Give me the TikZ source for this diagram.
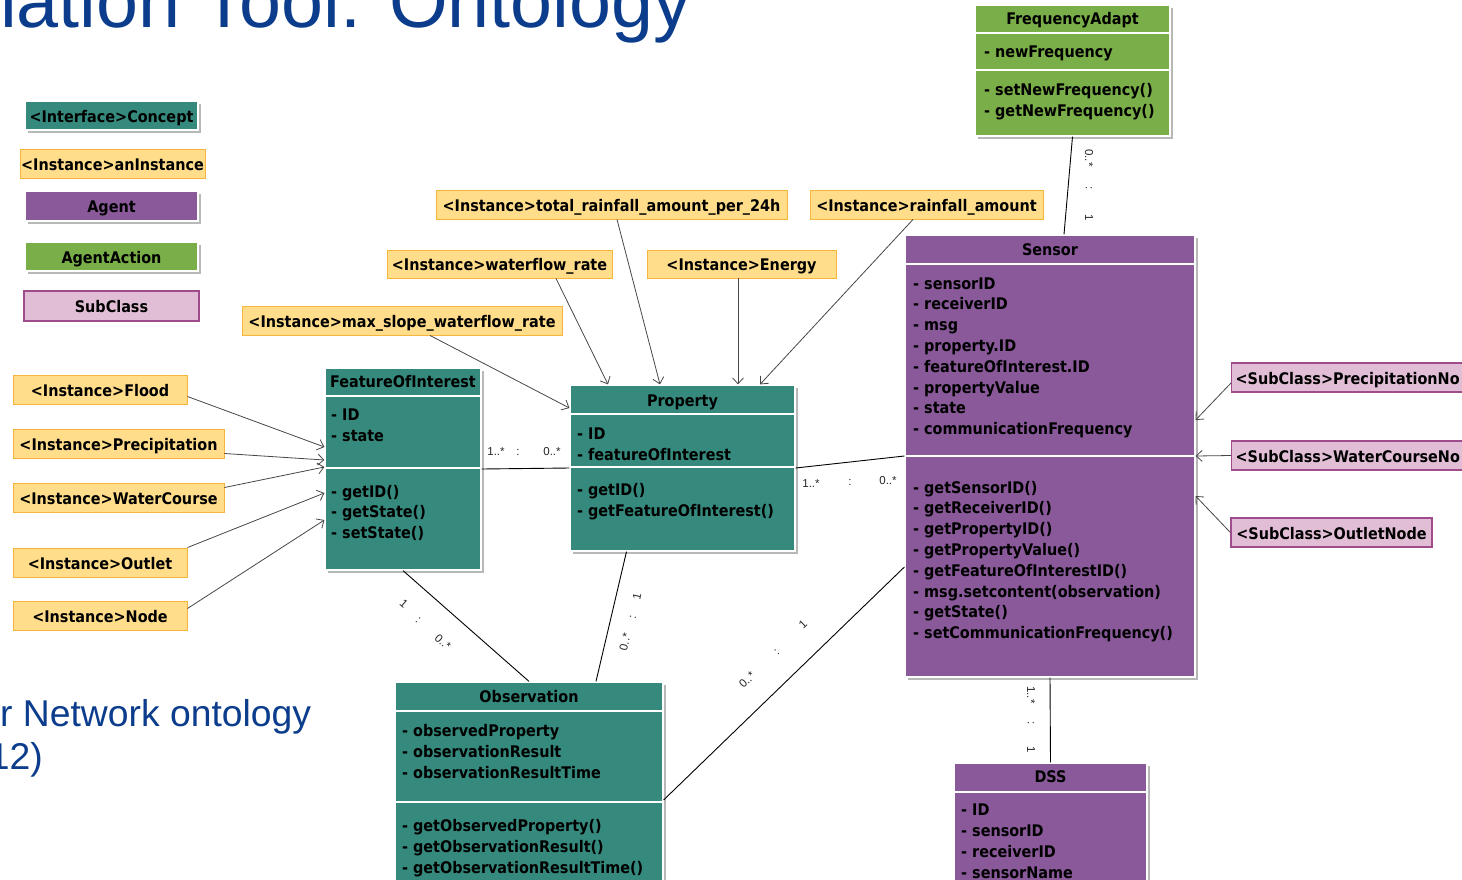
\documentclass[tikz,border=0pt]{standalone}
\usepackage{fontspec}
\setmainfont{DejaVu Sans Condensed}[Ligatures=NoCommon]
\newfontfamily\arialfont{Liberation Sans}
\usetikzlibrary{arrows.meta,shadows}
\definecolor{cteal}{RGB}{53,138,125}
\definecolor{cpurp}{RGB}{137,89,154}
\definecolor{cgreen}{RGB}{122,174,72}
\definecolor{corfill}{RGB}{255,221,138}
\definecolor{cordraw}{RGB}{246,182,62}
\definecolor{cpinkfill}{RGB}{226,190,214}
\definecolor{cpinkdraw}{RGB}{158,76,140}
\definecolor{ctitle}{RGB}{11,61,140}
\newcommand\boxtxt{\fontsize{16}{21}\selectfont\bfseries}
\newcommand\multtxt{\arialfont\fontsize{11.5}{12}\selectfont}
\begin{document}
\begin{tikzpicture}[x=1pt,y=-1pt,
  shadowed/.style={drop shadow={shadow xshift=3pt,shadow yshift=-3pt,opacity=0.28,fill=black}},
  classbox/.style={draw=white,line width=1.2pt,inner sep=0,shadowed},
  sep/.style={draw=white,line width=1.8pt},
  ttl/.style={anchor=base,inner sep=0,font=\boxtxt,text=black},
  attr/.style={anchor=base west,inner sep=0,font=\boxtxt,text=black},
  lbltext/.style={font=\boxtxt,text=black,text height=13.5pt,text depth=0.5pt},
  legend/.style={draw=white,line width=1.2pt,inner sep=0,lbltext,shadowed},
  inst/.style={draw=cordraw,fill=corfill,line width=0.9pt,inner sep=0,lbltext,minimum height=29pt},
  subcl/.style={draw=cpinkdraw,fill=cpinkfill,line width=1.3pt,inner sep=0,lbltext,minimum height=29pt},
  arr/.style={draw=black!72,line width=0.8pt,-{Straight Barb[length=6pt,width=11pt]}},
  assoc/.style={draw=black,line width=0.9pt},
  mult/.style={inner sep=0,font=\multtxt,text=black!85}]
\path[use as bounding box,fill=white] (0,0) rectangle (1462,879);
\clip (0,0) rectangle (1462,879);

% slide texts
\node[anchor=base west,inner sep=0,text=ctitle,font=\arialfont\fontsize{75.5}{75.5}\selectfont] (title) at (0,27) {lation Tool: Ontology};
\node[anchor=base west,inner sep=0,text=ctitle,font=\arialfont\fontsize{37.3}{37.3}\selectfont] (sub1t) at (0,726) {r Network ontology};
\node[anchor=base east,inner sep=0,text=ctitle,font=\arialfont\fontsize{37.3}{37.3}\selectfont] (sub2t) at (43,769) {12)};

% legend
\node[legend,fill=cteal,minimum width=173pt,minimum height=29pt] (lg1) at (111.5,115.5) {<Interface>Concept};
\node[inst,minimum width=185pt] (lg2) at (112.5,163.5) {<Instance>anInstance};
\node[legend,fill=cpurp,minimum width=173pt,minimum height=30pt] (lg3) at (111.5,206) {Agent};
\node[legend,fill=cgreen,minimum width=173pt,minimum height=29pt] (lg4) at (111.5,256.5) {AgentAction};
\node[subcl,minimum width=175pt,minimum height=30pt] (lg5) at (111.5,306) {SubClass};

% instances
\node[inst,minimum width=351pt] (total) at (611.5,204.5) {<Instance>total\_rainfall\_amount\_per\_24h};
\node[inst,minimum width=233pt] (rain) at (926.5,204.5) {<Instance>rainfall\_amount};
\node[inst,minimum width=225pt,minimum height=28pt] (wflow) at (499.5,264) {<Instance>waterflow\_rate};
\node[inst,minimum width=189pt,minimum height=28pt] (energy) at (741.5,264) {<Instance>Energy};
\node[inst,minimum width=320pt] (maxs) at (402,320.5) {<Instance>max\_slope\_waterflow\_rate};
\node[inst,minimum width=174pt] (flood) at (100,389.5) {<Instance>Flood};
\node[inst,minimum width=211pt] (precip) at (118.5,443.5) {<Instance>Precipitation};
\node[inst,minimum width=211pt] (wc) at (118.5,497.5) {<Instance>WaterCourse};
\node[inst,minimum width=174pt] (outlet) at (100,562.5) {<Instance>Outlet};
\node[inst,minimum width=174pt] (ninst) at (100,615.5) {<Instance>Node};

% subclasses
\node[subcl,anchor=west,text width=240pt,align=left,inner xsep=4pt] (sc1) at (1231,377.5) {<SubClass>PrecipitationNo};
\node[subcl,anchor=west,text width=240pt,align=left,inner xsep=4pt] (sc2) at (1231,455.5) {<SubClass>WaterCourseNo};
\node[subcl,minimum width=201pt] (sc3) at (1331.5,532.5) {<SubClass>OutletNode};

% FrequencyAdapt
\node[classbox,fill=cgreen,minimum width=195pt,minimum height=131pt] (freq) at (1072.5,70.5) {};
\draw[sep] (975,33) -- (1170,33);
\draw[sep] (975,70) -- (1170,70);
\node[ttl] (freq-t) at (1072.5,24) {FrequencyAdapt};
\node[attr] (freq-a) at (984,57) {- newFrequency};
\foreach \t [count=\i from 0] in {setNewFrequency(),getNewFrequency()}
  \node[attr] (freq-m\i) at (984,95+21*\i) {- \t};

% FeatureOfInterest
\node[classbox,fill=cteal,minimum width=156pt,minimum height=202pt] (foi) at (403,469) {};
\draw[sep] (325,396) -- (481,396);
\draw[sep] (325,468) -- (481,468);
\node[ttl] (foi-t) at (403,387) {FeatureOfInterest};
\foreach \t [count=\i from 0] in {ID,state}
  \node[attr] (foi-a\i) at (331,420+21*\i) {- \t};
\foreach \t [count=\i from 0] in {getID(),getState(),setState()}
  \node[attr] (foi-m\i) at (331,497+20.5*\i) {- \t};

% Property
\node[classbox,fill=cteal,minimum width=225pt,minimum height=166pt] (prop) at (682.5,468) {};
\draw[sep] (570,414) -- (795,414);
\draw[sep] (570,467) -- (795,467);
\node[ttl] (prop-t) at (682.5,406) {Property};
\foreach \t [count=\i from 0] in {ID,featureOfInterest}
  \node[attr] (prop-a\i) at (577,439+21*\i) {- \t};
\foreach \t [count=\i from 0] in {getID(),getFeatureOfInterest()}
  \node[attr] (prop-m\i) at (577,495+21*\i) {- \t};

% Sensor
\node[classbox,fill=cpurp,minimum width=290pt,minimum height=442pt] (sensor) at (1050,456) {};
\draw[sep] (905,264) -- (1195,264);
\draw[sep] (905,456) -- (1195,456);
\node[ttl] (sensor-t) at (1050,255) {Sensor};
\foreach \t [count=\i from 0] in {sensorID,receiverID,msg,property.ID,featureOfInterest.ID,propertyValue,state,communicationFrequency}
  \node[attr] (sensor-a\i) at (913,289+20.8*\i) {- \t};
\foreach \t [count=\i from 0] in {getSensorID(),getReceiverID(),getPropertyID(),getPropertyValue(),getFeatureOfInterestID(),msg.setcontent(observation),getState(),setCommunicationFrequency()}
  \node[attr] (sensor-m\i) at (913,493+20.8*\i) {- \t};

% Observation
\node[classbox,fill=cteal,minimum width=268pt,minimum height=218pt] (obs) at (529,791) {};
\draw[sep] (395,711) -- (663,711);
\draw[sep] (395,802) -- (663,802);
\node[ttl] (obs-t) at (529,702) {Observation};
\foreach \t [count=\i from 0] in {observedProperty,observationResult,observationResultTime}
  \node[attr] (obs-a\i) at (402,736+21*\i) {- \t};
\foreach \t [count=\i from 0] in {getObservedProperty(),getObservationResult(),getObservationResultTime()}
  \node[attr] (obs-m\i) at (402,831+21*\i) {- \t};

% DSS
\node[classbox,fill=cpurp,minimum width=193pt,minimum height=137pt] (dss) at (1050.5,831.5) {};
\draw[sep] (954,792) -- (1147,792);
\node[ttl] (dss-t) at (1050.5,782) {DSS};
\foreach \t [count=\i from 0] in {ID,sensorID,receiverID,sensorName}
  \node[attr] (dss-a\i) at (961,815+21*\i) {- \t};

% instance arrows to FeatureOfInterest
\draw[arr] ([yshift=-7pt]flood.east) -- ([yshift=22pt]foi.west);
\draw[arr] ([yshift=-10pt]precip.east) -- ([yshift=9pt]foi.west);
\draw[arr] ([yshift=10pt]wc.east) -- ([yshift=2pt]foi.west);
\draw[arr] (outlet.north east) -- ([yshift=-24pt]foi.west);
\draw[arr] ([yshift=7pt]ninst.east) -- ([yshift=-51pt]foi.west);

% instance arrows to Property
\draw[arr] ([xshift=28pt]maxs.south) -- ([yshift=60pt]prop.west);
\draw[arr] ([xshift=56.5pt]wflow.south) -- ([xshift=-74.5pt]prop.north);
\draw[arr] ([xshift=5.5pt]total.south) -- ([xshift=-22.5pt]prop.north);
\draw[arr] ([xshift=-3.5pt]energy.south) -- ([xshift=55.5pt]prop.north);
\draw[arr] ([xshift=-13.5pt]rain.south) -- ([xshift=77.5pt]prop.north);

% subclass arrows to Sensor
\draw[arr] ([yshift=-5.5pt]sc1.west) -- ([yshift=36pt]sensor.east);
\draw[arr] (sc2.west) -- (sensor.east);
\draw[arr] (sc3.west) -- ([yshift=-40pt]sensor.east);

% associations
\draw[assoc] (foi.east) -- (prop.west);
\draw[assoc] (prop.east) -- (sensor.west);
\draw[assoc] (freq.south) -- ([xshift=14pt]sensor.north);
\draw[assoc] (foi.south) -- (obs.north);
\draw[assoc] ([xshift=-56pt]prop.south) -- ([xshift=67pt]obs.north);
\draw[assoc] ([yshift=-111pt]sensor.west) -- ([yshift=-9pt]obs.east);
\draw[assoc] (sensor.south) -- (dss.north);

% multiplicities
\node[mult] (m1a) at (496,452) {1..*};
\node[mult] (m1b) at (518,452) {:};
\node[mult] (m1c) at (552,452) {0..*};
\node[mult] (m2a) at (811,484) {1..*};
\node[mult] (m2b) at (850,482) {:};
\node[mult] (m2c) at (888,481) {0..*};
\node[mult,rotate=-90] (m3a) at (1089,158) {0..*};
\node[mult,rotate=-90] (m3b) at (1089,188) {:};
\node[mult,rotate=-90] (m3c) at (1089,218) {1};
\node[mult,rotate=-90] (m4a) at (1031,695) {1..*};
\node[mult,rotate=-90] (m4b) at (1031,723) {:};
\node[mult,rotate=-90] (m4c) at (1031,750) {1};
\node[mult,rotate=-41.6] (m5a) at (404,604) {1};
\node[mult,rotate=-41.6] (m5b) at (418,620) {:};
\node[mult,rotate=-41.6] (m5c) at (443,642) {0..*};
\node[mult,rotate=77] (m6a) at (637,596) {1};
\node[mult,rotate=77] (m6b) at (633,617) {:};
\node[mult,rotate=77] (m6c) at (625,642) {0..*};
\node[mult,rotate=44] (m7a) at (803,624) {1};
\node[mult,rotate=44] (m7b) at (777,652) {:};
\node[mult,rotate=44] (m7c) at (747,680) {0..*};
\end{tikzpicture}
\end{document}
